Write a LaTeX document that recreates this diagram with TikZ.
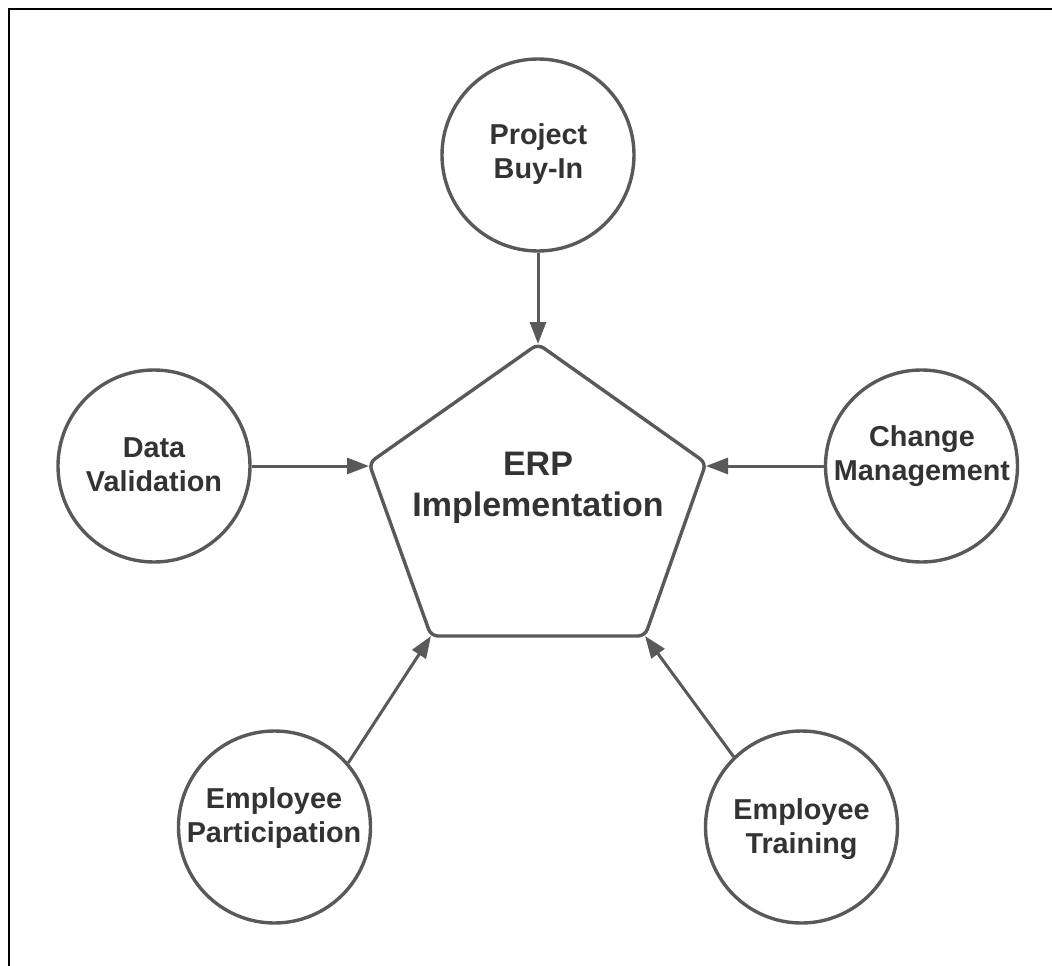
\documentclass[tikz,border=0pt]{standalone}
\usepackage{fontspec}
\setmainfont{Liberation Sans}
\usetikzlibrary{arrows.meta}
\definecolor{linegrey}{HTML}{595959}
\definecolor{textgrey}{HTML}{333333}
\tikzset{
  circ/.style={circle, draw=linegrey, line width=3.4pt, minimum size=192pt, inner sep=0pt},
  lbl/.style={anchor=north, inner sep=0pt, align=center, text=textgrey,
    font=\fontsize{28.8pt}{34pt}\selectfont\bfseries},
  biglbl/.style={anchor=north, inner sep=0pt, align=center, text=textgrey,
    font=\fontsize{34pt}{41pt}\selectfont\bfseries},
  arr/.style={draw=linegrey, line width=3pt,
    -{Triangle[length=22pt,width=16pt]}},
  pent/.style={draw=linegrey, line width=3.4pt, rounded corners=7pt, line join=round},
  frameline/.style={draw=black, line width=2pt}
}
\begin{document}
\begin{tikzpicture}[x=1pt, y=-1pt]
\useasboundingbox (0,0) rectangle (1052,966);
% frame (left and top edges visible)
\draw[frameline] (9,966) -- (9,9.5) -- (1052,9.5);

% pentagon vertices
\coordinate (vt) at (538,344);
\coordinate (vl) at (369,463);
\coordinate (vr) at (706,463);
\coordinate (vbl) at (431,636);
\coordinate (vbr) at (645,636);
\draw[pent] (vt) -- (vr) -- (vbr) -- (vbl) -- (vl) -- cycle;
\node[biglbl] (erp) at (538,451.5) {ERP\\Implementation};

% circles
\node[circ] (pb) at (538,155) {};
\node[lbl] at (538.5,123) {Project\\Buy-In};

\node[circ] (dv) at (154,466) {};
\node[lbl] at (154,437) {Data\\Validation};

\node[circ] (cm) at (921.5,466) {};
\node[lbl] at (922,425) {Change\\Management};

\node[circ] (ep) at (274.5,827) {};
\node[lbl] at (274,787) {Employee\\Participation};

\node[circ] (et) at (801.5,827) {};
\node[lbl] at (801.5,798) {Employee\\Training};

% connectors
\draw[arr] (pb) -- (vt);
\draw[arr] (dv.east |- 0,466) -- (vl |- 0,466);
\draw[arr] (cm.west |- 0,466) -- (vr |- 0,466);
\draw[arr] (ep.41) -- (vbl);
\draw[arr] (et.134) -- (vbr);
\end{tikzpicture}
\end{document}
